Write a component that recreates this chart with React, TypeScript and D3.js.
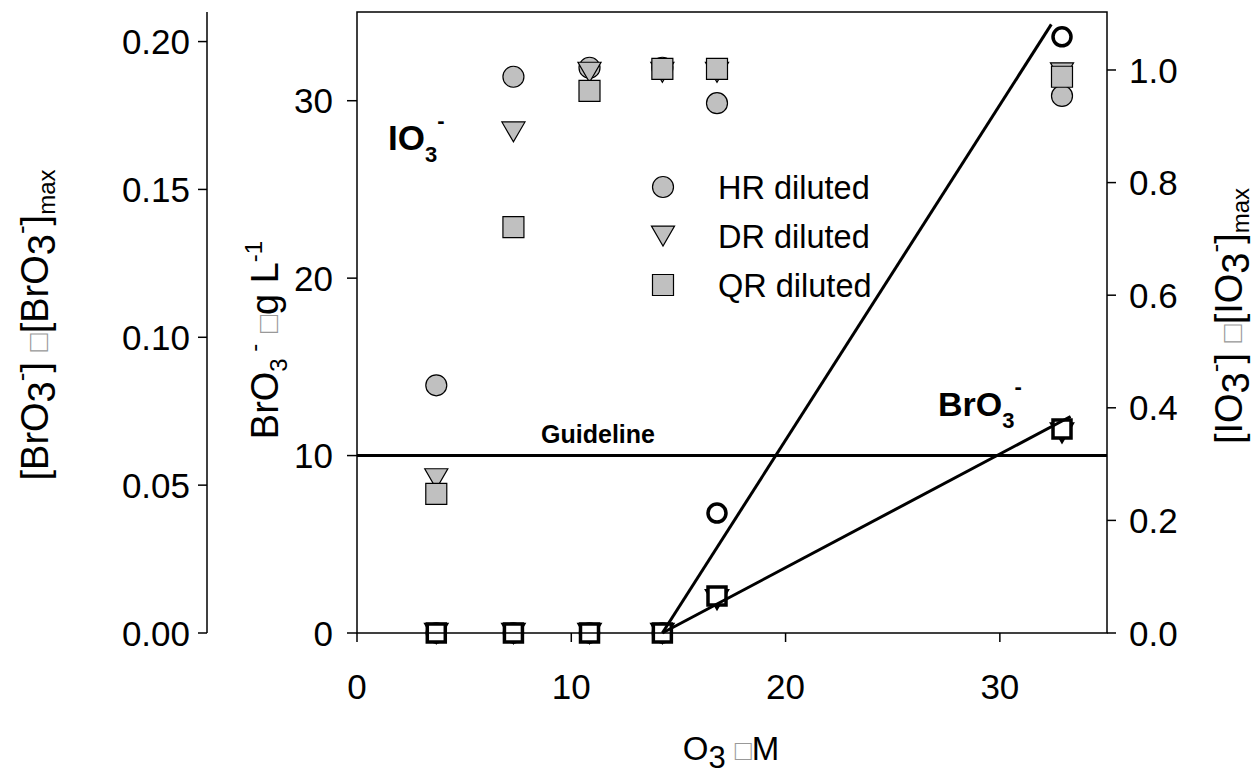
import * as d3 from "d3";

// O3 dose (µM)
const o3 = [3.7, 7.3, 10.85, 14.25, 16.8, 32.9];

// IO3- / IO3-max (right axis)
const hrIO3 = [0.44, 0.988, 1.004, 1.004, 0.941, 0.954];
const drIO3 = [0.274, 0.89, 0.996, 0.996, 0.996, 0.995];
const qrIO3 = [0.247, 0.721, 0.963, 1.002, 1.002, 0.988];

// BrO3- (µg/L, main left axis)
const hrBrO3 = [0, 0, 0, 0, 6.76, 33.6];
const drBrO3 = [0, 0, 0, 0, 1.9, 11.3];
const qrBrO3 = [0, 0, 0, 0, 2.08, 11.5];

// linear fits drawn through BrO3- points
const hrFitX = [14.25, 32.4];
const hrFitY = [0, 34.3];
const qrFitX = [14.25, 33.3];
const qrFitY = [0, 12.2];

const guideline = 10;

const xTicks = [0, 10, 20, 30];
const yTicks = [0, 10, 20, 30];
const rightTicks = [0, 0.2, 0.4, 0.6, 0.8, 1.0];
const outerTicks = [0, 0.05, 0.1, 0.15, 0.2];

const legendNames = ["HR diluted", "DR diluted", "QR diluted"];
const legendShapes = ["circle", "tri", "square"];

const W = 1260, H = 777;
const left = 357, right = 1107, top = 12, bottom = 633;
const outerX = 207;

const FONT = "'Liberation Sans', Arial, sans-serif";
const GRAY = "#c0c0c0";
const TICK = 35;
const TITLE = 38;

const x = d3.scaleLinear().domain([0, 35]).range([left, right]);
const y = d3.scaleLinear().domain([0, 35]).range([bottom, top]);
const yR = d3.scaleLinear().domain([0, 1.103]).range([bottom, top]);
const yL = d3.scaleLinear().domain([0, 0.21]).range([bottom, top]);

const shapePath = (shape: string, cx: number, cy: number, s: number) => {
  if (shape === "circle") {
    return `M${cx - s},${cy}a${s},${s} 0 1,0 ${2 * s},0a${s},${s} 0 1,0 ${-2 * s},0Z`;
  }
  if (shape === "square") {
    return `M${cx - s},${cy - s}h${2 * s}v${2 * s}h${-2 * s}Z`;
  }
  const h = s * 0.95;
  return `M${cx - s * 1.1},${cy - h}L${cx + s * 1.1},${cy - h}L${cx},${cy + h}Z`;
};

type Seg = { t: string; shift?: number; size?: number; fill?: string };

const Rich = ({ segs, size }: { segs: Seg[]; size: number }) => {
  let cur = 0;
  return (
    <>
      {segs.map((s, i) => {
        const target = s.shift || 0;
        const dy = target - cur;
        cur = target;
        return (
          <tspan key={i} dy={dy} fontSize={s.size || size} fill={s.fill || "#000"}>
            {s.t}
          </tspan>
        );
      })}
    </>
  );
};

const BOX = "\u25A1";

const outerLabel: Seg[] = [
  { t: "[BrO" },
  { t: "3", shift: 7 },
  { t: "-", shift: -18, size: 26 },
  { t: "] " },
  { t: BOX, fill: "#999", size: 30 },
  { t: "[BrO" },
  { t: "3", shift: 7 },
  { t: "-", shift: -18, size: 26 },
  { t: "]" },
  { t: "max", shift: 7, size: 24 },
];

const mainLabel: Seg[] = [
  { t: "BrO" },
  { t: "3", shift: 9, size: 24 },
  { t: " -", shift: -16, size: 24 },
  { t: " " },
  { t: BOX, fill: "#999", size: 30 },
  { t: "g L" },
  { t: "-1", shift: -16, size: 24 },
];

const rightLabel: Seg[] = [
  { t: "[IO" },
  { t: "3", shift: 7 },
  { t: "-", shift: -18, size: 26 },
  { t: "] " },
  { t: BOX, fill: "#999", size: 30 },
  { t: "[IO" },
  { t: "3", shift: 7 },
  { t: "-", shift: -18, size: 26 },
  { t: "]" },
  { t: "max", shift: 7, size: 24 },
];

const xLabel: Seg[] = [
  { t: "O" },
  { t: "3", shift: 8, size: 31 },
  { t: " ", shift: 0 },
  { t: BOX, fill: "#999", size: 28 },
  { t: "M" },
];

const App = () => {
  const ioSeries = [hrIO3, drIO3, qrIO3];
  const brSeries = [hrBrO3, drBrO3, qrBrO3];
  const fitLine = d3
    .line<[number, number]>()
    .x((d) => x(d[0]))
    .y((d) => y(d[1]));
  const hrFit = fitLine(hrFitX.map((v, i) => [v, hrFitY[i]] as [number, number]));
  const qrFit = fitLine(qrFitX.map((v, i) => [v, qrFitY[i]] as [number, number]));

  return (
    <svg
      width={W}
      height={H}
      style={{ position: "absolute", left: 0, top: 0, background: "#fff" }}
      fontFamily={FONT}
    >
      {/* IO3- gray markers */}
      {ioSeries.map((ser, si) =>
        ser.map((v, i) => (
          <path
            key={`io${si}-${i}`}
            d={shapePath(legendShapes[si], x(o3[i]), yR(v), 10.5)}
            fill={GRAY}
            stroke="#000"
            strokeWidth={1.2}
          />
        ))
      )}

      {/* BrO3- open markers */}
      {brSeries.map((ser, si) =>
        ser.map((v, i) => (
          <path
            key={`br${si}-${i}`}
            d={shapePath(legendShapes[si], x(o3[i]), y(v), 9)}
            fill="#fff"
            stroke="#000"
            strokeWidth={3.5}
          />
        ))
      )}

      {/* guideline */}
      <line x1={left} x2={right} y1={y(guideline)} y2={y(guideline)} stroke="#000" strokeWidth={3} />
      <text x={598} y={y(guideline) - 13} textAnchor="middle" fontSize={25} fontWeight="bold">
        Guideline
      </text>

      {/* fit lines */}
      <path d={hrFit || ""} fill="none" stroke="#000" strokeWidth={3} />
      <path d={qrFit || ""} fill="none" stroke="#000" strokeWidth={3} />

      {/* frame */}
      <rect x={left} y={top} width={right - left} height={bottom - top} fill="none" stroke="#000" strokeWidth={1.5} />

      {/* bottom axis */}
      {xTicks.map((t) => (
        <g key={`x${t}`}>
          <line x1={x(t)} x2={x(t)} y1={bottom} y2={bottom + 9} stroke="#000" strokeWidth={1.5} />
          <text x={x(t)} y={bottom + 66} textAnchor="middle" fontSize={TICK}>
            {t}
          </text>
        </g>
      ))}
      <text x={731} y={760} textAnchor="middle" fontSize={33}>
        <Rich segs={xLabel} size={33} />
      </text>

      {/* main left axis */}
      {yTicks.map((t) => (
        <g key={`y${t}`}>
          <line x1={left - 10} x2={left} y1={y(t)} y2={y(t)} stroke="#000" strokeWidth={1.5} />
          <text x={left - 24} y={y(t)} dy="0.36em" textAnchor="end" fontSize={TICK}>
            {t}
          </text>
        </g>
      ))}
      <text transform={`translate(${278},${340}) rotate(-90)`} textAnchor="middle" fontSize={TITLE}>
        <Rich segs={mainLabel} size={TITLE} />
      </text>

      {/* right axis */}
      {rightTicks.map((t) => (
        <g key={`r${t}`}>
          <line x1={right} x2={right + 9} y1={yR(t)} y2={yR(t)} stroke="#000" strokeWidth={1.5} />
          <text x={right + 22} y={yR(t)} dy="0.36em" textAnchor="start" fontSize={TICK}>
            {d3.format(".1f")(t)}
          </text>
        </g>
      ))}
      <text transform={`translate(${1242},${316}) rotate(-90)`} textAnchor="middle" fontSize={TITLE}>
        <Rich segs={rightLabel} size={TITLE} />
      </text>

      {/* outer left axis */}
      <line x1={outerX} x2={outerX} y1={top} y2={bottom} stroke="#000" strokeWidth={1.5} />
      {outerTicks.map((t) => (
        <g key={`o${t}`}>
          <line x1={outerX - 9} x2={outerX} y1={yL(t)} y2={yL(t)} stroke="#000" strokeWidth={1.5} />
          <text x={outerX - 17} y={yL(t)} dy="0.36em" textAnchor="end" fontSize={TICK}>
            {d3.format(".2f")(t)}
          </text>
        </g>
      ))}
      <text transform={`translate(${48},${325}) rotate(-90)`} textAnchor="middle" fontSize={TITLE}>
        <Rich segs={outerLabel} size={TITLE} />
      </text>

      {/* series annotations */}
      <text x={388} y={150} fontSize={35} fontWeight="bold">
        <Rich segs={[{ t: "IO" }, { t: "3", shift: 12, size: 22 }, { t: "-", shift: -22, size: 22 }]} size={35} />
      </text>
      <text x={938} y={416} fontSize={34} fontWeight="bold">
        <Rich segs={[{ t: "BrO" }, { t: "3", shift: 12, size: 22 }, { t: "-", shift: -22, size: 22 }]} size={34} />
      </text>

      {/* legend */}
      {legendNames.map((n, i) => (
        <g key={n}>
          <path d={shapePath(legendShapes[i], 663, 187 + i * 49, 10.5)} fill={GRAY} stroke="#000" strokeWidth={1.2} />
          <text x={718} y={187 + i * 49} dy="0.36em" fontSize={32.5}>
            {n}
          </text>
        </g>
      ))}
    </svg>
  );
};

export default App;
